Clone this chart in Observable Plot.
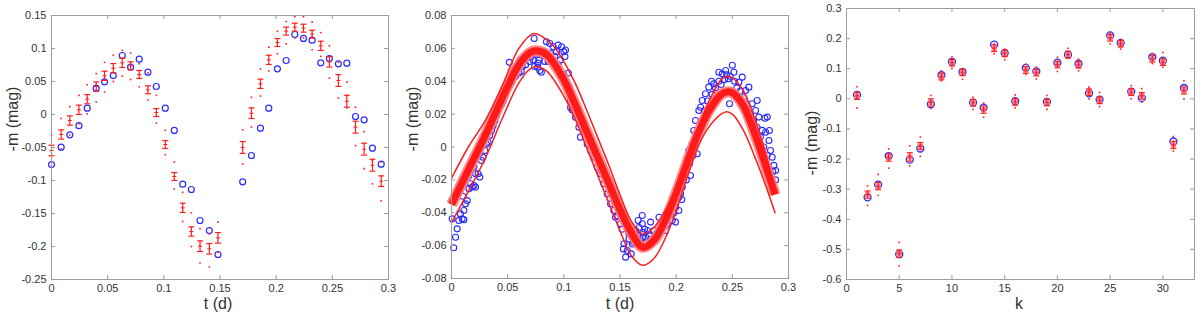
<!DOCTYPE html>
<html><head><meta charset="utf-8">
<script src="https://cdn.jsdelivr.net/npm/d3@7"></script>
<script src="https://cdn.jsdelivr.net/npm/@observablehq/plot@0.6"></script>
<style>
body{margin:0;background:#fff;width:1200px;height:321px;overflow:hidden;font-family:"Liberation Sans",Arial,sans-serif;position:relative}
.panel{position:absolute;top:0;width:400px;height:321px}
.lab{position:absolute;font-size:16px;color:#333;white-space:nowrap;transform:translate(-50%,-50%)}
.ylab{transform:translate(-50%,-50%) rotate(-90deg)}
</style></head>
<body>
<div id="p1" class="panel" style="left:0"></div>
<div id="p2" class="panel" style="left:400px"></div>
<div id="p3" class="panel" style="left:800px"></div>
<div class="lab ylab" style="left:13px;top:119px">-m (mag)</div>
<div class="lab" style="left:218px;top:304px">t (d)</div>
<div class="lab ylab" style="left:413px;top:119px">-m (mag)</div>
<div class="lab" style="left:620px;top:304px">t (d)</div>
<div class="lab ylab" style="left:812px;top:143px">-m (mag)</div>
<div class="lab" style="left:1019px;top:304px">k</div>
<script>
// ---------- Panel 1 data ----------
const t1 = [0,0.0086,0.0163,0.0244,0.0318,0.0398,0.0472,0.055,0.063,0.0704,0.0781,0.0858,0.0933,0.1013,0.1093,0.1168,0.1245,0.1322,0.1405,0.1482,
            0.1702,0.178,0.186,0.1934,0.2011,0.2089,0.2166,0.2243,0.232,0.2397,0.2474,0.2554,0.2629,0.2706,0.2783,0.2857,0.2935];
const obs1 = [-0.0758,-0.0495,-0.0308,-0.017,0.0096,0.0399,0.0495,0.059,0.0894,0.072,0.0838,0.0641,0.0424,0.0096,-0.0242,-0.1056,-0.1136,-0.1606,-0.1758,-0.2121,
              -0.102,-0.0621,-0.0207,0.0096,0.0692,0.0818,0.1212,0.1152,0.1126,0.0783,0.0848,0.0768,0.0778,-0.003,-0.008,-0.051,-0.0753];
const mean1 = [-0.0545,-0.0303,-0.0091,0.0071,0.0232,0.0424,0.0586,0.0702,0.0783,0.0737,0.0606,0.0374,0.003,-0.0455,-0.0939,-0.1414,-0.1773,-0.1995,-0.2035,-0.1869,
               -0.05,0.002,0.0465,0.0828,0.1091,0.1263,0.1323,0.1308,0.1217,0.104,0.0798,0.0515,0.0202,-0.0192,-0.0525,-0.0768,-0.101];
const err1 = [0.008,0.007,0.007,0.007,0.007,0.007,0.007,0.007,0.007,0.006,0.006,0.006,0.006,0.006,0.006,0.007,0.007,0.008,0.008,0.008,
              0.009,0.008,0.007,0.007,0.006,0.006,0.006,0.006,0.006,0.007,0.008,0.009,0.009,0.009,0.009,0.009,0.008];
const hi1 = [-0.031,-0.006,0.012,0.029,0.045,0.062,0.079,0.090,0.097,0.093,0.077,0.063,0.029,-0.024,-0.072,-0.118,-0.149,-0.173,-0.181,-0.163,
             -0.023,0.026,0.069,0.102,0.126,0.141,0.148,0.148,0.140,0.124,0.104,0.079,0.049,0.011,-0.026,-0.070,-0.072];
const lo1 = [-0.080,-0.052,-0.031,-0.014,0.001,0.019,0.034,0.050,0.058,0.053,0.042,0.022,-0.013,-0.061,-0.113,-0.162,-0.200,-0.225,-0.231,-0.209,
             -0.075,-0.019,0.028,0.066,0.092,0.107,0.116,0.116,0.098,0.088,0.055,0.025,0.010,-0.047,-0.082,-0.105,-0.131];

// ---------- Panel 2 data ----------
const obs2 = [
[0.0006,-0.0437],[0.002,-0.0613],[0.0036,-0.0549],[0.005,-0.0498],[0.0065,-0.0447],[0.008,-0.0407],[0.0095,-0.0437],[0.011,-0.0442],[0.011,-0.0386],
[0.0125,-0.0346],[0.014,-0.0326],[0.0155,-0.0254],[0.017,-0.0224],[0.0185,-0.0244],[0.02,-0.0234],[0.0214,-0.0244],[0.0214,-0.0163],[0.0237,-0.0163],
[0.0252,-0.0183],[0.0267,-0.0082],[0.028,-0.0062],[0.0297,-0.0021],[0.031,0.0019],[0.0326,0.0029],[0.034,0.007],[0.0356,0.010],[0.037,0.013],
[0.0386,0.016],[0.040,0.019],[0.0415,0.022],[0.0445,0.026],[0.046,0.028],[0.0475,0.031],[0.049,0.034],[0.052,0.038],[0.0515,0.0515],[0.054,0.040],
[0.057,0.043],[0.060,0.045],[0.063,0.049],[0.066,0.050],[0.0695,0.052],[0.0727,0.053],[0.0736,0.066],[0.0766,0.0485],[0.0786,0.0465],[0.080,0.0455],
[0.083,0.052],[0.0845,0.064],[0.0875,0.063],[0.0905,0.061],[0.0935,0.058],[0.095,0.062],[0.098,0.061],[0.101,0.055],[0.104,0.045],[0.106,0.024],
[0.010,-0.030],[0.015,-0.018],[0.020,-0.012],[0.025,-0.004],[0.030,0.006],[0.035,0.014],[0.040,0.024],[0.045,0.031],[0.050,0.036],[0.055,0.045],
[0.060,0.050],[0.065,0.055],[0.070,0.057],[0.075,0.057],[0.080,0.056],[0.085,0.055],[0.090,0.052],[0.095,0.050],[0.100,0.044],[0.033,0.012],
[0.043,0.028],[0.061,0.053],[0.067,0.054],[0.071,0.055],[0.078,0.053],[0.082,0.058],[0.088,0.057],[0.092,0.055],[0.097,0.053],[0.100,0.058],
[0.058,0.047],[0.062,0.046],[0.074,0.049],[0.077,0.051],[0.086,0.052],
[0.1015,0.059],[0.1044,0.0364],[0.1059,0.0283],[0.1074,0.0226],[0.1104,0.0181],[0.1134,0.012],[0.1148,0.006],[0.1163,0.0161],[0.1178,0.010],
[0.1208,0.0019],[0.1237,-0.0021],[0.1267,-0.0062],[0.1297,-0.0123],[0.1326,-0.0163],[0.1347,-0.0123],[0.1356,-0.0224],[0.1386,-0.0285],
[0.1416,-0.0346],[0.1445,-0.0386],[0.146,-0.0427],[0.149,-0.0366],[0.1505,-0.0467],[0.1535,-0.0589],[0.155,-0.067],[0.1564,-0.063],
[0.1579,-0.0528],[0.1609,-0.0548],[0.1609,-0.059],[0.1639,-0.0508],[0.1662,-0.0447],[0.1683,-0.057],[0.1698,-0.0417],[0.1698,-0.0467],
[0.1728,-0.0548],[0.1757,-0.059],[0.1772,-0.0457],[0.1745,-0.0508],[0.1802,-0.0508],[0.1847,-0.0427],[0.1876,-0.0467],[0.1906,-0.0508],
[0.1936,-0.0386],[0.1965,-0.0447],[0.1995,-0.0366],[0.2025,-0.0305],
[0.108,0.030],[0.112,0.024],[0.118,0.014],[0.122,0.008],[0.126,0.000],[0.130,-0.006],[0.134,-0.015],[0.138,-0.020],[0.142,-0.028],[0.145,-0.033],
[0.148,-0.042],[0.152,-0.050],[0.158,-0.056],[0.162,-0.058],[0.166,-0.054],[0.170,-0.055],[0.172,-0.050],[0.176,-0.054],[0.178,-0.056],
[0.182,-0.053],[0.186,-0.050],[0.189,-0.045],[0.192,-0.047],[0.195,-0.041],[0.198,-0.040],[0.160,-0.065],[0.153,-0.062],[0.167,-0.049],
[0.171,-0.052],[0.164,-0.053],
[0.1994,-0.0457],[0.2024,-0.0386],[0.2039,-0.0285],[0.2054,-0.0244],[0.2068,-0.0183],[0.2083,-0.0123],[0.2098,-0.0062],[0.2113,-0.0021],
[0.2128,-0.0173],[0.2143,0.0019],[0.2157,0.010],[0.2172,0.0161],[0.2187,-0.0041],[0.2202,0.0222],[0.2217,0.0242],[0.2232,0.0283],[0.2261,0.0324],
[0.2291,0.0364],[0.2315,0.040],[0.2335,0.0384],[0.238,0.0455],[0.241,0.0445],[0.244,0.0465],[0.2463,0.0415],[0.2475,0.0263],[0.250,0.0497],
[0.2514,0.0455],[0.2558,0.0394],[0.2588,0.0425],[0.2618,0.0344],[0.2647,0.0364],[0.2677,0.0263],[0.2707,0.0222],[0.2721,0.0283],[0.2736,0.0182],
[0.2766,0.0101],[0.2796,0.009],[0.279,0.0175],[0.2811,0.0182],[0.2826,0.004],[0.284,-0.0021],[0.2855,-0.0062],[0.287,-0.0112],[0.2855,-0.0224],
[0.2885,-0.0143],[0.2885,-0.020],
[0.205,-0.032],[0.209,-0.020],[0.212,-0.010],[0.215,-0.005],[0.218,0.008],[0.222,0.015],[0.225,0.022],[0.228,0.028],[0.232,0.032],[0.235,0.036],
[0.238,0.040],[0.240,0.038],[0.243,0.041],[0.245,0.044],[0.248,0.043],[0.252,0.040],[0.254,0.036],[0.257,0.034],[0.260,0.030],[0.263,0.026],
[0.266,0.020],[0.269,0.016],[0.272,0.012],[0.275,0.006],[0.278,0.000],[0.281,-0.005],[0.283,0.010],[0.286,-0.015]
];
const tFit2 = [0,0.01,0.02,0.03,0.04,0.05,0.06,0.07,0.076,0.085,0.09,0.1,0.11,0.12,0.13,0.14,0.15,0.16,0.17,0.18,0.19,0.2,0.21,0.22,0.23,0.24,0.245,0.25,0.26,0.27,0.28,0.288];
const mean2 = [-0.035,-0.021,-0.007,0.007,0.022,0.037,0.050,0.0575,0.0585,0.056,0.052,0.041,0.026,0.010,-0.006,-0.022,-0.038,-0.052,-0.061,-0.057,-0.045,-0.028,-0.009,0.009,0.023,0.032,0.0335,0.033,0.025,0.008,-0.012,-0.029];
const tUp2 = [0,0.015,0.03,0.045,0.06,0.073,0.08,0.09,0.1,0.11,0.12,0.13,0.14,0.15,0.16,0.17,0.18,0.19,0.2,0.21,0.22,0.23,0.24,0.245,0.25,0.26,0.27,0.28,0.288];
const up2 = [-0.019,0.000,0.016,0.037,0.060,0.069,0.0675,0.062,0.052,0.039,0.023,0.006,-0.011,-0.029,-0.045,-0.053,-0.049,-0.039,-0.025,-0.007,0.012,0.029,0.041,0.043,0.042,0.034,0.017,-0.005,-0.026];
const tLo2 = [0,0.015,0.03,0.045,0.06,0.07,0.076,0.085,0.1,0.11,0.12,0.13,0.14,0.15,0.16,0.17,0.18,0.19,0.2,0.21,0.22,0.23,0.24,0.245,0.25,0.26,0.27,0.28,0.288];
const lo2 = [-0.046,-0.027,-0.007,0.017,0.039,0.0475,0.049,0.046,0.031,0.017,0.000,-0.017,-0.034,-0.051,-0.066,-0.072,-0.068,-0.056,-0.039,-0.018,0.001,0.013,0.020,0.0215,0.020,0.010,-0.006,-0.024,-0.040];

// ---------- Panel 3 data ----------
const k3 = [1,2,3,4,5,6,7,8,9,10,11,12,13,14,15,16,17,18,19,20,21,22,23,24,25,26,27,28,29,30,31,32];
const obs3 = [0.013,-0.327,-0.285,-0.190,-0.516,-0.202,-0.165,-0.018,0.079,0.123,0.089,-0.0125,-0.029,0.180,0.152,-0.008,0.103,0.091,-0.010,0.120,0.1465,0.1167,0.0184,-0.0026,0.2106,0.186,0.024,0.003,0.1388,0.1266,-0.1417,0.036];
const mean3 = [0.010,-0.318,-0.290,-0.195,-0.514,-0.193,-0.157,-0.012,0.074,0.120,0.088,-0.013,-0.036,0.168,0.151,-0.010,0.096,0.087,-0.012,0.114,0.147,0.113,0.022,-0.005,0.203,0.183,0.022,0.010,0.133,0.122,-0.153,0.028];
const err3 = [0.012,0.012,0.012,0.012,0.012,0.014,0.012,0.012,0.011,0.011,0.011,0.011,0.012,0.011,0.011,0.011,0.011,0.011,0.011,0.011,0.011,0.011,0.011,0.011,0.011,0.011,0.011,0.011,0.011,0.011,0.012,0.012];
const hi3 = [0.040,-0.289,-0.251,-0.166,-0.477,-0.156,-0.127,0.011,0.093,0.140,0.100,0.005,-0.014,0.182,0.165,0.013,0.115,0.105,0.011,0.138,0.168,0.132,0.039,0.021,0.218,0.197,0.044,0.034,0.151,0.154,-0.125,0.060];
const lo3 = [-0.031,-0.354,-0.321,-0.230,-0.555,-0.223,-0.191,-0.032,0.060,0.101,0.065,-0.035,-0.061,0.149,0.130,-0.030,0.081,0.066,-0.035,0.091,0.135,0.093,0.000,-0.026,0.182,0.165,0.000,-0.011,0.117,0.105,-0.173,0.000];

// ---------- ticks ----------
const xTicks1 = [0,0.05,0.1,0.15,0.2,0.25,0.3];
const yTicks1 = [-0.25,-0.2,-0.15,-0.1,-0.05,0,0.05,0.1,0.15];
const yTicks2 = [-0.08,-0.06,-0.04,-0.02,0,0.02,0.04,0.06,0.08];
const xTicks3 = [0,5,10,15,20,25,30];
const yTicks3 = [-0.6,-0.5,-0.4,-0.3,-0.2,-0.1,0,0.1,0.2,0.3];

const RED = "#ff1c1c", BLUE = "#2b2bff", AX = "#9c9c9c";
const fmt = d => String(+(+d).toFixed(3));
const cap = {draw(ctx, size){ const w = Math.sqrt(size/Math.PI); ctx.moveTo(-w,0); ctx.lineTo(w,0);} };

function panel(el, {xDomain, yDomain, xTicks, yTicks, mt, mb, ml, mr, marks}) {
  const W = 400, H = 321, ih = H - mt - mb, iw = W - ml - mr;
  const svg = Plot.plot({
    width: W, height: H, marginTop: mt, marginBottom: mb, marginLeft: ml, marginRight: mr,
    x: {domain: xDomain}, y: {domain: yDomain},
    style: {fontFamily: "'Liberation Sans', Arial, sans-serif", fontSize: "11px", color: "#333", background: "transparent"},
    marks: [
      ...marks,
      Plot.frame({stroke: AX}),
      Plot.tickX(xTicks, {x: d => d, insetTop: ih - 4, stroke: AX}),
      Plot.tickX(xTicks, {x: d => d, insetBottom: ih - 4, stroke: AX}),
      Plot.tickY(yTicks, {y: d => d, insetRight: iw - 4, stroke: AX}),
      Plot.tickY(yTicks, {y: d => d, insetLeft: iw - 4, stroke: AX}),
      Plot.axisX(xTicks, {anchor: "bottom", tickSize: 0, tickPadding: 5, tickFormat: fmt, label: null, color: "#333"}),
      Plot.axisY(yTicks, {anchor: "left", tickSize: 0, tickPadding: 5, tickFormat: fmt, label: null, color: "#333"})
    ]
  });
  document.getElementById(el).appendChild(svg);
}

function errMarks(data, x, rc, rd, pinkBox) {
  const m = [];
  if (pinkBox) m.push(Plot.dot(data, {x, y: "m", r: 3, symbol: "square", fill: "#ff7070", fillOpacity: 0.8}));
  m.push(
    Plot.ruleX(data, {x, y1: d => d.m - d.e, y2: d => d.m + d.e, stroke: RED, strokeWidth: 1.2}),
    Plot.dot(data, {x, y: d => d.m - d.e, r: rc, symbol: cap, stroke: RED, strokeWidth: 1.2}),
    Plot.dot(data, {x, y: d => d.m + d.e, r: rc, symbol: cap, stroke: RED, strokeWidth: 1.2}),
    Plot.dot(data, {x, y: "m", r: 2, symbol: cap, stroke: RED, strokeWidth: 1}),
    Plot.dot(data, {x, y: "hi", r: rd, symbol: "square", fill: RED}),
    Plot.dot(data, {x, y: "lo", r: rd, symbol: "square", fill: RED})
  );
  return m;
}

// Panel 1
const d1 = t1.map((t, i) => ({t, c: obs1[i], m: mean1[i], e: err1[i], hi: hi1[i], lo: lo1[i]}));
panel("p1", {xDomain: [0, 0.3], yDomain: [-0.25, 0.15], xTicks: xTicks1, yTicks: yTicks1, mt: 15, mb: 42, ml: 51, mr: 12,
  marks: [
    Plot.dot(d1, {x: "t", y: "c", r: 3, stroke: BLUE, strokeWidth: 1.2}),
    ...errMarks(d1, "t", 3, 0.9, false)
  ]});

// Panel 2
const fit2 = tFit2.map((t, i) => ({t, v: mean2[i]}));
const upD = tUp2.map((t, i) => ({t, v: up2[i]}));
const loD = tLo2.map((t, i) => ({t, v: lo2[i]}));
panel("p2", {xDomain: [0, 0.3], yDomain: [-0.08, 0.08], xTicks: xTicks1, yTicks: yTicks2, mt: 15, mb: 43, ml: 51, mr: 12,
  marks: [
    Plot.dot(obs2, {x: d => d[0], y: d => d[1], r: 3, stroke: BLUE, strokeWidth: 1.1}),
    Plot.line(fit2, {x: "t", y: "v", curve: "catmull-rom", stroke: "#ff7a7a", strokeWidth: 11, strokeOpacity: 0.9, strokeLinecap: "butt"}),
    Plot.line(fit2, {x: "t", y: "v", curve: "catmull-rom", stroke: "#ff1a1a", strokeWidth: 7, strokeLinecap: "butt"}),
    Plot.line(upD, {x: "t", y: "v", curve: "catmull-rom", stroke: RED, strokeWidth: 1.5}),
    Plot.line(loD, {x: "t", y: "v", curve: "catmull-rom", stroke: RED, strokeWidth: 1.5})
  ]});

// Panel 3
const d3p = k3.map((k, i) => ({k, c: obs3[i], m: mean3[i], e: err3[i], hi: hi3[i], lo: lo3[i]}));
panel("p3", {xDomain: [0, 33], yDomain: [-0.6, 0.3], xTicks: xTicks3, yTicks: yTicks3, mt: 8, mb: 42, ml: 46, mr: 6,
  marks: [
    Plot.dot(d3p, {x: "k", y: "c", r: 3.5, stroke: BLUE, strokeWidth: 1.3}),
    ...errMarks(d3p, "k", 3, 0.9, true)
  ]});
</script>
</body></html>
